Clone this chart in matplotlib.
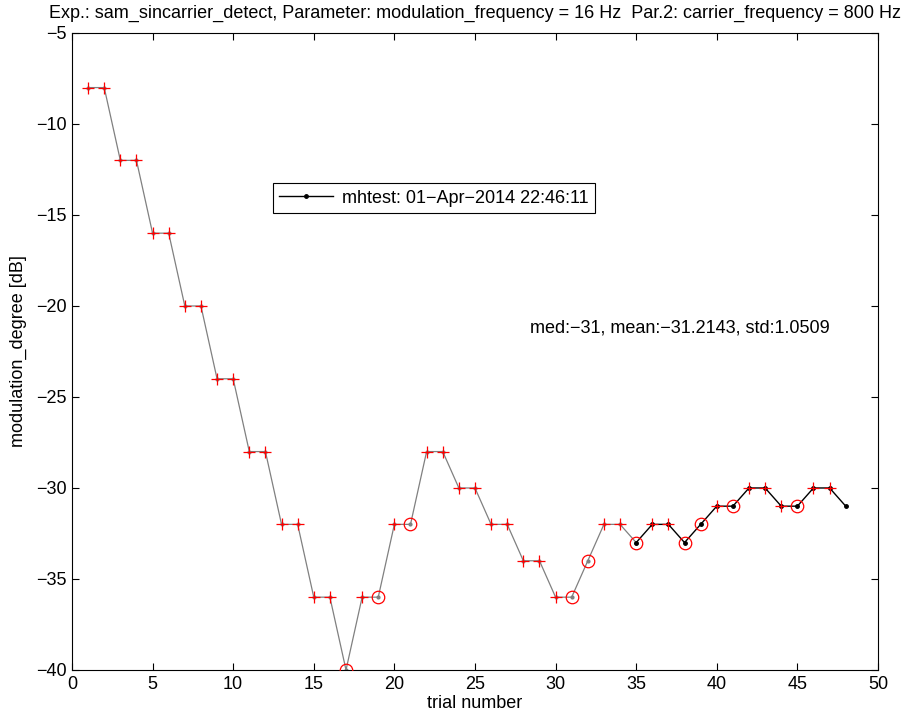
import matplotlib
matplotlib.use("Agg")
import matplotlib.pyplot as plt
from matplotlib.lines import Line2D

plt.rcParams['font.family'] = ['Liberation Sans', 'DejaVu Sans']

trials = list(range(1, 49))
values = [-8, -8, -12, -12, -16, -16, -20, -20, -24, -24, -28, -28,
          -32, -32, -36, -36, -40, -36, -36, -32, -32, -28, -28, -30,
          -30, -32, -32, -34, -34, -36, -36, -34, -32, -32, -33, -32,
          -32, -33, -32, -31, -31, -30, -30, -31, -31, -30, -30, -31]
circle_trials = [17, 19, 21, 31, 32, 35, 38, 39, 41, 45]
no_mark_trials = [48]
final_start = 35

title = ("Exp.: sam_sincarrier_detect, Parameter: modulation_frequency = 16 Hz  "
         "Par.2: carrier_frequency = 800 Hz")
legend_label = "mhtest: 01\u2212Apr\u22122014 22:46:11"
stats_text = "med:\u221231, mean:\u221231.2143, std:1.0509"

fig = plt.figure(figsize=(9.10, 7.17), dpi=100)
ax = fig.add_axes([0.0791, 0.0656, 0.8857, 0.8884])

fs = 13
# grey path for early trials
i0 = final_start - 1
ax.plot(trials[:i0 + 1], values[:i0 + 1], color='#808080', lw=0.9,
        marker='.', markersize=4, zorder=2)
# black path for final trials
ax.plot(trials[i0:], values[i0:], color='black', lw=1.0,
        marker='.', markersize=5, zorder=3)

plus_x = [t for t in trials if t not in circle_trials and t not in no_mark_trials]
plus_y = [values[t - 1] for t in plus_x]
circ_x = circle_trials
circ_y = [values[t - 1] for t in circ_x]
ax.plot(plus_x, plus_y, linestyle='none', marker='+', color='red',
        markersize=8, mew=0.9, zorder=4)
ax.plot(circ_x, circ_y, linestyle='none', marker='o', mfc='none', mec='red',
        markersize=9, mew=0.9, zorder=4)

ax.set_xlim(0, 50)
ax.set_ylim(-40, -5)
ax.set_xticks(range(0, 51, 5))
ax.set_yticks(range(-40, -4, 5))
ax.tick_params(direction='in', top=True, right=True, labelsize=fs,
               length=5, width=0.8, pad=4)
for s in ax.spines.values():
    s.set_linewidth(0.8)
ax.set_xlabel("trial number", fontsize=fs, labelpad=2)
ax.set_ylabel("modulation_degree [dB]", fontsize=fs, labelpad=6)
ax.set_title(title, fontsize=fs, pad=11)

ax.text(28.4, -21.2, stats_text, fontsize=fs, va='center', ha='left')

handle = Line2D([], [], color='black', lw=1.0, marker='.', markersize=5)
leg = ax.legend([handle], [legend_label], loc='upper left',
                bbox_to_anchor=(0.238, 0.778), fontsize=fs, frameon=True,
                fancybox=False, edgecolor='black', framealpha=1,
                handlelength=3.0, borderpad=0.35, handletextpad=0.5)
leg.get_frame().set_linewidth(0.8)

fig.savefig("out.png", dpi=100)
